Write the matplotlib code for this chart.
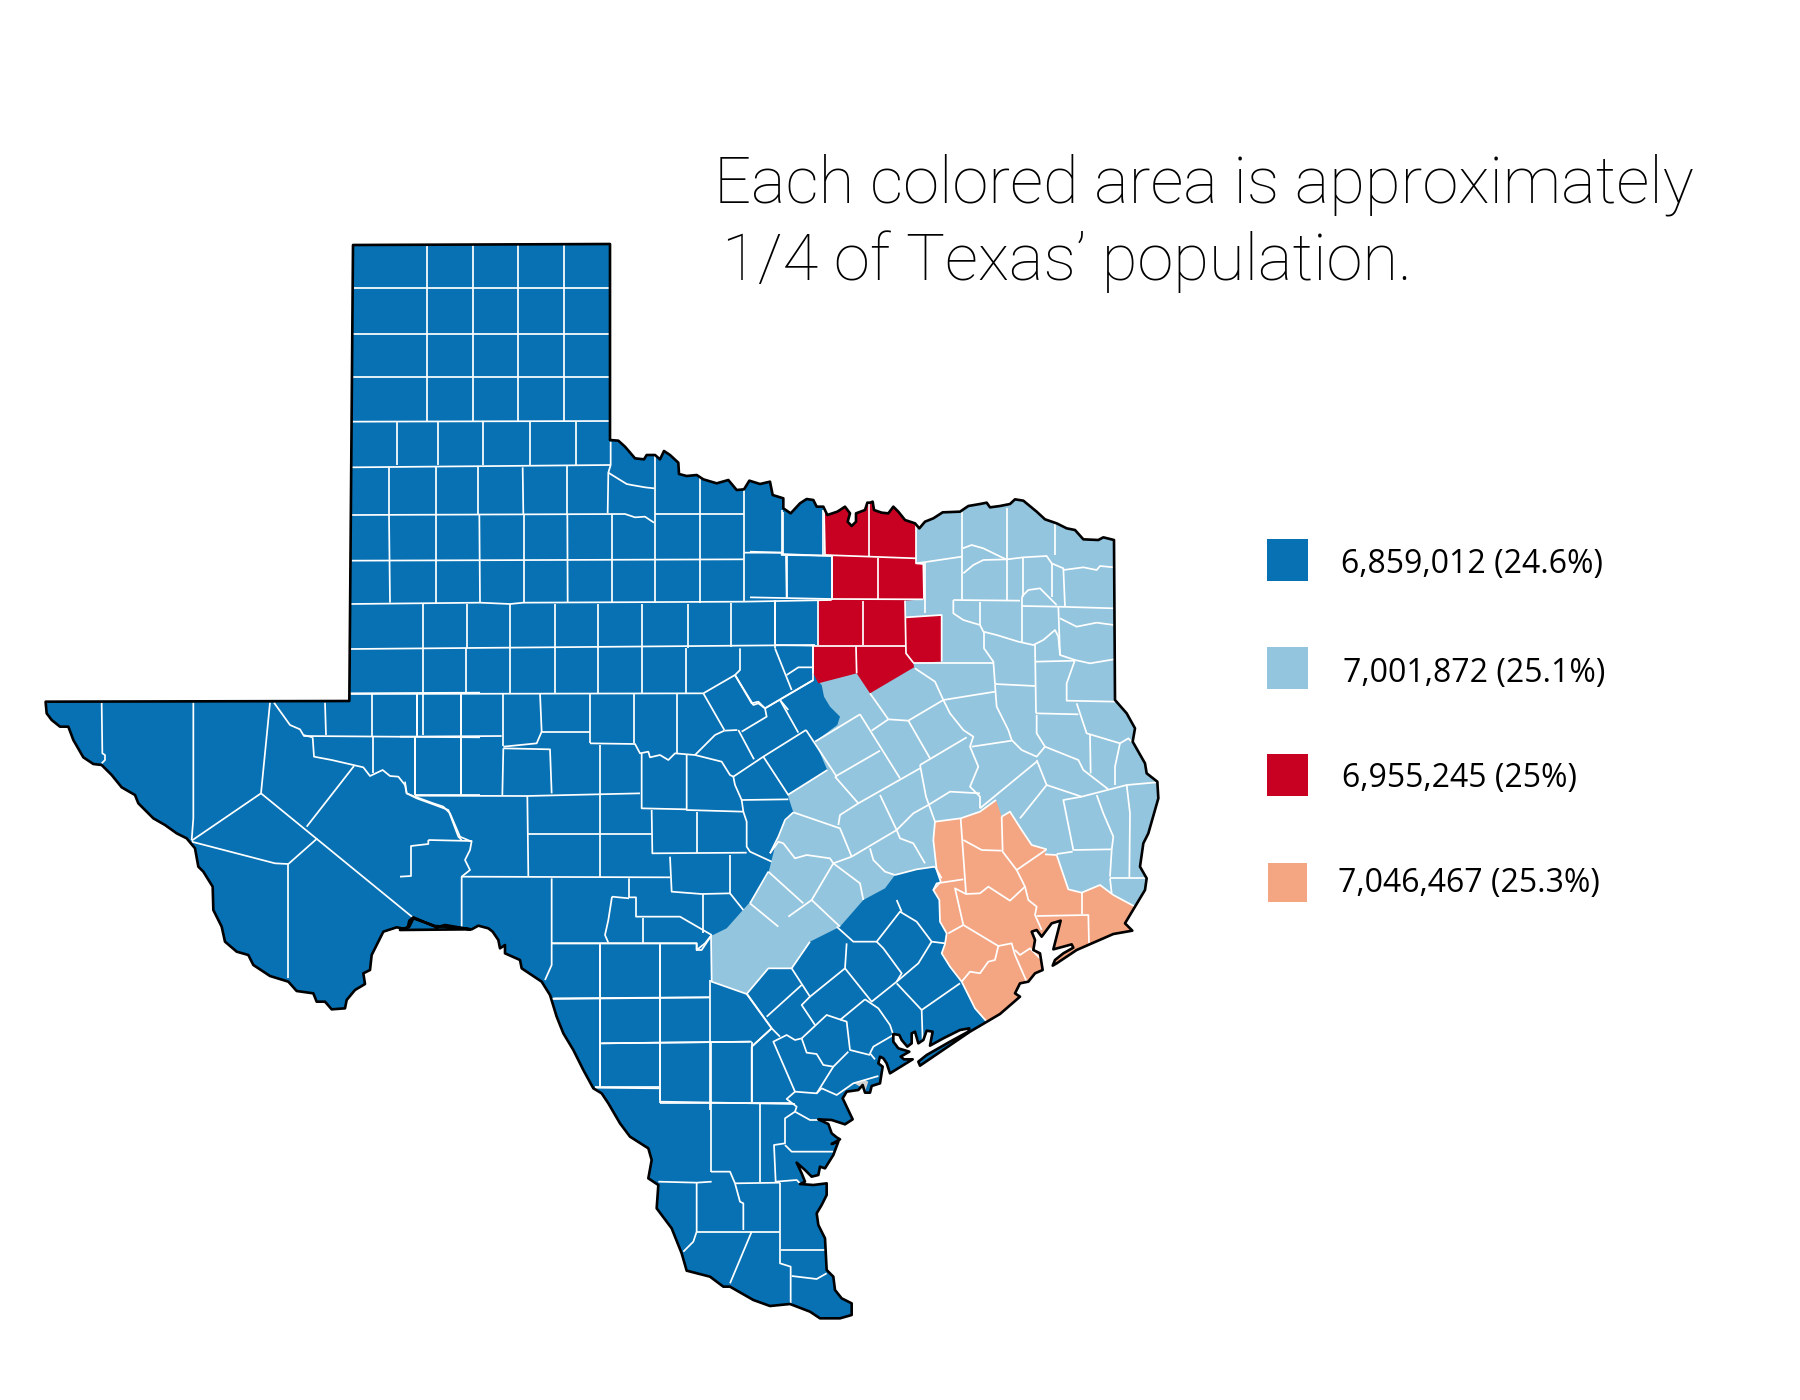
import matplotlib
matplotlib.use("Agg")
import matplotlib.pyplot as plt
from matplotlib.patches import Polygon, Rectangle
from matplotlib.path import Path

LEGEND_LABELS = ["6,859,012 (24.6%)", "7,001,872 (25.1%)", "6,955,245 (25%)", "7,046,467 (25.3%)"]
LEGEND_COLORS = ["#0771B3", "#93C5DE", "#C80021", "#F4A683"]
TITLE_LINES = ["Each colored area is approximately", "1/4 of Texas\u2019 population."]

# Map geometry is traced in five local frames: origin of each frame in picture pixels.
ORIGIN = {"abs": (0, 0), "nw": (340, 410), "ne": (750, 480), "se": (900, 790),
          "s": (550, 900), "c": (400, 660), "w": (30, 680)}

def conv(frame, pts):
    ox, oy = ORIGIN[frame]
    k = 1.0 if frame == "abs" else 1 / 3
    return [(ox + x * k, oy + y * k) for x, y in pts]

BORDER_TOP = [(353, 245), (610, 244)]
BORDER_RED_W = [(810,90),(835,92),(855,110),(885,145),(912,148),(920,135),(945,135),(960,148),(972,123),(990,135),
 (1015,158),(1017,192),(1040,198),(1070,195),(1090,208),(1130,220),(1165,210),(1190,240),(1212,238),(1228,212),
 (1260,222),(1290,215),(1298,255),(1330,265),(1330,295),(1352,310),(1380,280),(1400,267),(1420,270),(1430,290),(1450,290)]
BORDER_RED_E = [(232,105),(262,95),(285,80),(300,100),(293,125),(305,138),(318,125),(318,100),(345,90),(352,68),
 (360,68),(368,65),(372,90),(395,98),(415,100),(430,80),(445,95),(465,120),(495,130),(508,145),(525,125),(550,115),
 (578,97),(630,95),(655,78),(690,72),(710,68),(720,82),(750,78),(780,72),(795,58),(820,62),(860,95),(885,118),
 (920,130),(950,145),(975,150),(1000,178),(1045,180),(1060,172),(1092,180),(1095,660),(1130,700),(1155,745),
 (1148,785),(1185,850),(1190,880),(1222,905),(1225,955),(1215,990),(1195,1060),(1180,1090),(1170,1160),(1190,1195)]
BORDER_GULF_E = [(735,300),(705,350),(675,400),(697,422),(640,432),(530,480),(470,520),(458,527),(465,510),(490,490),
 (520,473),(515,463),(490,470),(460,478),(482,392),(455,400),(425,440),(410,420),(395,425),(405,450),(400,480),
 (420,490),(428,540),(405,550),(385,575),(360,580),(345,610),(360,620),(300,672)]
BORDER_GULF_S = [(1350,342),(1260,395),(1110,497),(1105,485),(1130,465),(1200,425),(1255,395),(1258,385),(1230,390),
 (1180,415),(1140,437),(1148,395),(1130,392),(1120,420),(1105,430),(1095,395),(1085,400),(1085,430),(1072,440),
 (1055,420),(1048,405),(1030,402),(1030,425),(1045,445),(1078,455),(1052,470),(1062,478),(1088,478),(1020,520),
 (1010,490),(1000,475),(990,470),(985,490),(998,500),(990,550),(965,558),(960,578),(945,578),(938,555),(925,570),
 (890,575),(878,595),(908,658),(885,673),(845,660),(805,658),(835,672),(845,700),(860,712),(870,718),(845,732),
 (865,725),(850,765),(825,805),(810,800),(805,825),(785,830),(765,810),(740,788),(755,820),(765,845),(750,852),
 (790,855),(830,850),(830,885),(815,915),(800,940),(805,975),(825,1015),(830,1110),(850,1130),(855,1170),(875,1195),
 (905,1210),(905,1245),(870,1255),(810,1255),(780,1235),(720,1212),(660,1218),(610,1200),(540,1160),(520,1160),
 (480,1130),(410,1112),(395,1060),(365,985),(320,925),(325,855),(295,835),(305,780),(295,745),(240,710),(210,670),
 (175,610),(155,580),(130,565),(100,510),(70,450),(40,400),(20,350),(0,285)]
BORDER_RIO_C = [(425,965),(365,925),(360,900),(315,880),(315,855),(300,865),(295,840),(278,815),(265,805),(235,797),
 (215,808),(135,800),(105,798),(40,775),(28,800),(0,810)]
BORDER_RIO_W = [(1320,748),(1245,735),(1220,742),(1150,712),(1138,722),(1132,748),(1100,742),(1060,755),(1040,795),
 (1025,825),(1020,870),(1000,880),(1005,912),(975,930),(950,960),(945,985),(905,988),(885,965),(860,965),(850,940),
 (800,933),(775,905),(720,888),(670,855),(655,825),(620,815),(585,785),(575,740),(550,690),(548,620),(520,575),
 (505,560),(495,505),(470,475),(440,460),(405,435),(370,415),(325,370),(315,345),(275,322),(245,285),(215,255),
 (190,252),(160,232),(130,180),(115,140),(90,140),(65,120),(50,100),(47,68),(47,65),(958,63)]

STATE = (conv("abs", BORDER_TOP) + conv("nw", BORDER_RED_W) + conv("ne", BORDER_RED_E) + conv("se", BORDER_GULF_E)
         + conv("s", BORDER_GULF_S) + conv("c", BORDER_RIO_C) + conv("w", BORDER_RIO_W))

REGION_LIGHT = (conv("ne", [(498,0),(1350,0),(1350,1300),(1160,1300),(1000,1260),(900,1240),(620,1100),(555,1160),
                            (500,1168),(435,1185),(405,1225),(340,1260),(270,1340)])
                + conv("s", [(780,125),(725,205),(655,205),(590,282),(485,245),(483,108),(530,85)])
                + conv("c", [(1060,715),(1105,640),(1125,560),(1150,490)])
                + conv("ne", [(130,997),(113,945),(232,870),(195,785),(262,735),(270,710),(240,680),(222,650),
                              (215,615),(205,605),(300,500),(498,250)]))
REGION_RED = conv("ne", [(222,30),(498,30),(498,250),(520,252),(522,358),(465,362),(468,412),(575,405),(575,545),
                         (490,548),(492,562),(360,640),(320,580),(205,610),(190,580),(190,498),(205,495),(205,362),
                         (245,358),(245,228),(222,225)])
REGION_ORANGE = conv("se", [(105,95),(182,85),(240,65),(288,30),(305,80),(330,65),(365,120),(395,165),(440,178),
                            (435,193),(470,195),(505,298),(545,308),(600,285),(640,315),(705,350),(720,440),(500,600),
                            (300,720),(260,695),(225,655),(185,575),(150,530),(125,490),(135,462),(140,430),(120,395),
                            (118,330),(100,300),(122,275),(110,240),(100,150)])
BAY_GREY = conv("s", [(910,548),(945,540),(955,545),(945,575),(930,560)])

LINES = {
 "abs": [[(353,288),(610,288)],[(353,334),(610,334)],[(353,377),(610,377)],[(427,245),(427,421)],[(473,245),(473,421)],
         [(518,245),(518,421)],[(564,245),(564,421)]],
 "nw": [[(36,35),(810,33)],[(170,35),(170,165)],[(295,35),(295,165)],[(430,35),(430,165)],[(570,35),(570,165)],
        [(707,35),(707,165)],[(36,172),(810,165)],[(147,172),(147,313)],[(287,172),(287,313)],[(415,172),(415,313)],
        [(548,172),(550,313)],[(680,168),(680,313)],[(812,95),(812,165),(805,188),(803,310)],
        [(805,188),(860,222),(875,225),(915,232),(942,235)],[(945,135),(945,450)],[(36,315),(855,312),(885,322),(915,320),(942,338)],
        [(945,313),(1212,313)],[(147,313),(150,578)],[(287,313),(287,578)],[(418,313),(420,578)],[(552,313),(552,578)],
        [(682,313),(683,578)],[(815,313),(815,578)],[(945,450),(945,578)],[(1080,200),(1080,578)],[(1212,240),(1212,575)],
        [(1325,300),(1325,435)],[(1212,428),(1325,428),(1325,435),(1475,437)],[(1340,437),(1340,565)],[(1450,300),(1450,435)],
        [(1475,437),(1475,570)],[(1212,575),(1475,570)],[(35,452),(1212,448)],[(32,582),(420,578),(510,582),(550,578),(1212,575)],
        [(248,582),(248,715)],[(380,582),(380,715)],[(510,582),(510,715)],[(645,582),(645,715)],[(775,582),(775,715)],
        [(905,582),(905,715)],[(1043,582),(1043,715)],[(1172,578),(1172,712)],[(1305,572),(1305,715)],[(32,717),(1425,705)],
        [(250,715),(250,850)],[(378,715),(378,850)],[(510,715),(510,850)],[(645,715),(645,850)],[(775,715),(775,850)],
        [(905,715),(905,850)],[(1037,715),(1037,850)],[(1200,715),(1200,780),(1185,795),(1090,850)],[(32,852),(1090,850)],
        [(1185,795),(1240,885),(1255,880),(1275,895)],[(1305,715),(1355,840)],[(1340,795),(1375,772),(1420,772)],
        [(1275,895),(1420,810)],[(1320,870),(1345,900)],[(1420,705),(1420,810)]],
 "c": [[(70,100),(70,225)],[(50,100),(50,225)],[(182,100),(182,405)],[(310,100),(310,258)],[(420,100),(425,215),(410,250),(310,260)],
       [(570,100),(570,250)],[(702,100),(702,250)],[(832,100),(832,278)],[(425,215),(570,215)],[(0,230),(305,228)],
       [(570,250),(705,252),(720,280),(745,275),(750,292),(780,285),(805,300),(825,280),(885,285),(945,225),(973,212)],
       [(885,285),(945,300),(965,305),(990,345),(1000,350),(1005,375),(1025,420),(1030,455),(1040,485),(1040,560),(1050,575),(1115,605)],
       [(1025,420),(1165,418)],[(310,265),(450,268),(455,400)],[(310,265),(307,405)],[(45,230),(45,405)],[(600,255),(600,650)],
       [(725,280),(725,445),(860,448)],[(860,285),(860,450),(1030,455)],[(755,450),(757,580),(1040,578)],[(890,455),(890,580)],
       [(15,365),(20,400),(45,410),(100,430),(130,440),(150,460),(180,530),(215,545)],[(45,407),(380,408),(720,400)],
       [(382,408),(385,650)],[(385,522),(755,522)],[(85,540),(215,543),(210,570),(195,600),(210,630),(185,650),(185,800)],
       [(85,540),(85,552),(33,558),(33,648),(0,650)],[(185,650),(810,652)],[(455,655),(455,915),(435,960)],
       [(455,850),(890,850),(890,870),(905,870),(935,825)],[(687,655),(687,712),(708,712),(708,770),(840,770),(935,825)],
       [(636,710),(687,715)],[(636,710),(625,780),(615,825),(625,848)],[(730,775),(730,850)],[(810,590),(815,695),(905,702),(990,700)],
       [(990,585),(990,700),(1030,750)],[(908,702),(908,820)],[(600,850),(600,1280)],[(780,850),(780,1320)],[(460,1015),(930,1012)],
       [(605,1150),(1055,1145)],[(585,1280),(780,1280)],[(780,1325),(1185,1332)],[(930,960),(930,1350)],[(1055,1145),(1055,1325)],
       [(1040,1000),(1115,1105),(1055,1160)],[(910,100),(973,210)],[(973,212),(1012,210)],[(1005,45),(1055,130),(1075,125),(1095,145)],
       [(1095,145),(1240,60)],[(1025,215),(1100,170),(1095,145)],[(1140,120),(1195,218)],[(1015,210),(1062,298)],
       [(1218,210),(1090,290),(1000,350)],[(1090,290),(1165,405)],[(1218,210),(1310,350)]],
 "w": [[(215,68),(217,220),(225,225),(225,240),(215,250)],[(490,68),(490,415),(485,480)],[(720,68),(693,340)],[(693,340),(485,482)],
       [(693,340),(1148,712)],[(485,485),(735,550),(775,552)],[(775,552),(775,895)],[(775,552),(862,475)],[(830,440),(972,258)],
       [(732,68),(755,100),(780,135),(810,148),(820,165),(848,172)],
       [(848,172),(852,230),(905,240),(970,255),(1000,262),(1020,288),(1058,270),(1080,288),(1105,290),(1125,315),(1130,340),(1160,355),(1215,375),(1255,390),(1285,470),(1295,480)],
       [(885,68),(888,165)],[(820,168),(1350,172)],[(958,40),(1350,38)],[(1025,42),(1025,168)],[(1160,40),(1160,168)],[(1293,40),(1293,345)],
       [(1030,172),(1030,280)],[(1155,172),(1155,345)],[(1155,345),(1350,345)]],
 "ne": [[(98,95),(98,222)],[(0,215),(95,218)],[(108,228),(110,355)],[(95,222),(245,228)],[(222,85),(225,225)],[(358,68),(358,228)],
        [(225,225),(498,235)],[(385,235),(385,357)],[(245,228),(245,357)],[(0,352),(245,357),(520,358)],[(75,360),(75,495)],[(205,362),(205,495)],
        [(338,362),(338,495)],[(190,497),(465,497)],[(75,495),(190,497)],[(190,497),(190,580)],[(318,500),(320,580)],[(465,362),(468,520),(490,548)],
        [(498,130),(498,250),(520,252),(522,358)],[(468,412),(575,405),(575,545)],[(500,250),(635,230)],[(635,95),(635,360)],[(525,250),(525,400)],
        [(772,85),(772,360)],[(915,130),(915,225)],[(638,205),(665,195),(700,205),(772,240)],
        [(640,280),(670,255),(700,240),(772,238),(820,232),(890,228),(905,250),(940,265),(945,380)],[(820,232),(820,350)],[(905,250),(905,350)],
        [(940,270),(1000,262),(1040,270),(1050,258),(1092,262)],[(610,360),(810,362)],[(815,350),(815,490)],[(815,350),(835,330),(870,325),(920,375)],
        [(815,378),(925,380),(1092,385)],[(610,360),(610,400),(640,420),(690,435),(700,455),(740,465),(805,485),(850,495),(880,480),(915,450),(925,470),(930,525),(975,540),(1020,550),(1092,538)],
        [(930,415),(980,440),(1040,428),(1092,435)],[(925,380),(930,525)],[(690,365),(690,435)],[(855,495),(858,700)],
        [(702,455),(702,505),(730,545),(735,612),(855,618)],[(490,548),(730,548)],[(858,545),(975,542)],[(975,540),(950,610),(950,662),(1095,665)],
        [(735,615),(740,680),(775,750),(785,780),(815,810),(860,830),(885,800)],[(858,700),(985,703)],[(980,670),(1010,760),(1110,790)],
        [(1110,790),(1095,860),(1095,915)],[(860,705),(860,760),(885,800),(985,840),(1000,870),(1075,928)],[(1020,765),(1022,880)],[(1110,790),(1135,775),(1145,785)],
        [(495,565),(555,605),(580,660),(600,700),(640,750),(670,770),(660,800),(685,860),(660,920),(690,950),(690,985)],
        [(580,660),(735,635)],[(665,800),(785,782)],[(860,845),(690,985)],[(860,840),(890,915),(810,1015)],[(890,915),(995,950),(1130,915),(1220,907)],
        [(995,950),(940,960),(970,1110)],[(1040,945),(1060,1000),(1090,1070),(1085,1110),(1080,1190)],[(968,1110),(1085,1108)],
        [(1130,915),(1140,1000),(1138,1195)],[(1080,1195),(1190,1195)],[(1080,1195),(1085,1240)],[(920,1122),(968,1115)],
        [(360,640),(415,718),(475,722),(580,660)],[(415,718),(365,752)],[(330,703),(195,785)],[(330,703),(450,895)],[(390,812),(255,890)],
        [(475,722),(540,835)],[(510,855),(650,772)],[(510,865),(325,970),(270,1005),(265,1035)],[(255,890),(325,970)],[(232,870),(113,945)],
        [(130,997),(270,1045),(305,1130)],[(510,855),(528,950),(555,1025)],[(535,975),(600,935),(690,940)],[(390,945),(440,1050),(305,1130)],
        [(440,1050),(490,1000),(535,975)],[(440,1050),(450,1075),(490,1090),(525,1150)],[(305,1130),(250,1150)],[(360,1105),(370,1140),(405,1175),(435,1185)],
        [(250,1150),(330,1210),(340,1260)],[(250,1150),(185,1260),(115,1310)],[(60,1120),(85,1085),(100,1090),(135,1135),(170,1125),(240,1135),(250,1150)],
        [(55,1175),(160,1270)],[(55,1175),(0,1270)],[(185,1260),(270,1340)],[(0,1270),(85,1340)],
        [(435,1185),(500,1168),(555,1160)],[(555,1160),(575,1195)],[(130,997),(105,1020),(85,1070),(60,1120)]],
 "se": [[(105,95),(182,85),(240,65),(288,30)],[(305,80),(330,65),(365,120),(395,165),(440,178)],[(435,193),(470,195),(505,298),(545,308),(600,285),(640,315),(705,350)],
        [(182,85),(198,310)],[(190,150),(245,180),(305,182)],[(305,80),(308,185),(350,240)],[(440,178),(350,240),(375,290),(330,332),(265,290),(240,310),(198,312),(165,295),(190,405)],
        [(375,290),(385,330),(410,350),(405,375),(425,420)],[(410,378),(565,375),(567,460)],[(545,308),(545,372)],[(100,300),(110,280),(190,268)],
        [(190,405),(295,468),(285,510),(265,515),(240,550),(210,545),(185,575)],[(190,405),(145,430)],[(295,468),(335,460),(345,495),(380,575)],
        [(345,480),(360,495),(390,475),(420,505)],[(260,695),(225,655),(185,575),(150,530),(125,490),(135,462),(140,430),(120,395),(118,330),(100,300),(122,275),(110,240),(100,150),(105,95)]],
 "s": [[(860,80),(910,125),(980,125),(1050,35),(1100,65),(1145,125),(1185,130)],[(890,130),(885,205),(780,290),(725,205)],
       [(980,125),(1000,145),(1055,220),(1040,245),(965,305),(885,205)],[(1055,35),(1040,0)],[(1145,125),(1105,190),(1040,245)],
       [(1040,250),(1115,330),(1230,250)],[(1115,330),(1118,420)],[(945,298),(870,360)],[(945,298),(985,325),(1020,375),(1030,405),(970,440),(960,460),(975,478)],
       [(780,290),(755,315),(795,375)],[(755,415),(830,345),(890,365),(900,450),(960,465)],[(590,282),(665,385),(605,440),(605,605)],[(650,350),(755,255)],
       [(665,385),(690,410)],[(755,415),(770,458),(800,462),(820,495),(850,500),(895,455)],[(850,500),(800,580),(735,575),(670,425),(710,405),(735,420),(755,415)],
       [(985,528),(910,550),(860,585),(815,565),(800,580)],[(735,575),(710,597),(740,620),(735,635),(705,655),(705,730),(672,735),(677,845),(740,840),(750,850)],
       [(735,635),(780,660),(805,660)],[(705,735),(725,755),(850,755)],[(630,612),(630,845)],[(330,608),(725,608)],[(483,425),(483,815)],[(330,135),(330,608)],
       [(150,135),(150,560)],[(5,130),(440,130),(440,150),(465,130),(485,105)],[(5,297),(480,292)],[(150,430),(600,425)],[(135,563),(330,565)],
       [(483,815),(540,815),(555,850),(570,905),(580,910),(580,990)],[(325,845),(440,848),(485,845)],[(555,850),(690,848)],[(440,848),(440,995),(430,1025),(400,1055)],
       [(440,995),(690,995)],[(605,995),(540,1150)],[(690,848),(690,1050),(690,1090),(722,1100),(722,1210)],[(692,1050),(828,1050)],[(725,1128),(800,1137),(830,1120)],
       [(780,125),(725,205),(655,205),(590,282),(485,245),(483,108)]],
}

plt.rcParams["font.family"] = ["Open Sans", "DejaVu Sans"]
fig = plt.figure(figsize=(18, 14), dpi=100)
ax = fig.add_axes([0, 0, 1, 1])
ax.set_xlim(0, 1800)
ax.set_ylim(1400, 0)
ax.axis("off")

state = Polygon(STATE, closed=True, facecolor=LEGEND_COLORS[0], edgecolor="none", zorder=1)
ax.add_patch(state)
for pts, col, z in [(REGION_LIGHT, LEGEND_COLORS[1], 2), (REGION_ORANGE, LEGEND_COLORS[3], 3), (REGION_RED, LEGEND_COLORS[2], 3)]:
    p = Polygon(pts, closed=True, facecolor=col, edgecolor="none", zorder=z)
    ax.add_patch(p)
    p.set_clip_path(state)
ax.add_patch(Polygon(BAY_GREY, closed=True, facecolor="#cfd3d6", edgecolor="none", zorder=3.5))

for frame, polylines in LINES.items():
    for line in polylines:
        pts = conv(frame, line)
        l, = ax.plot([p[0] for p in pts], [p[1] for p in pts], color="white", lw=1.25,
                     solid_joinstyle="round", solid_capstyle="butt", zorder=4)
        l.set_clip_path(state)

ax.add_patch(Polygon(STATE, closed=True, facecolor="none", edgecolor="black", lw=1.9, joinstyle="round", zorder=5))

SQUARES = [(1267, 539, 41, 42), (1267, 647, 41, 42), (1267, 754, 41, 42), (1268, 863, 39, 39)]
TEXT_POS = [(1341, 573), (1343, 682), (1342, 787), (1338, 892)]
for (x, y, w, h), col, label, (tx, ty) in zip(SQUARES, LEGEND_COLORS, LEGEND_LABELS, TEXT_POS):
    ax.add_patch(Rectangle((x, y), w, h, facecolor=col, edgecolor="none", zorder=2))
    ax.text(tx, ty, label, fontsize=23, color="black", ha="left", va="baseline", family=["Open Sans", "DejaVu Sans"])

for (txt, (tx, ty)) in zip(TITLE_LINES, [(714, 203), (722, 280)]):
    ax.text(tx, ty, txt, fontsize=47, color="black", ha="left", va="baseline", family=["Roboto", "DejaVu Sans"], fontweight=100)

fig.savefig("out.png", dpi=100)
